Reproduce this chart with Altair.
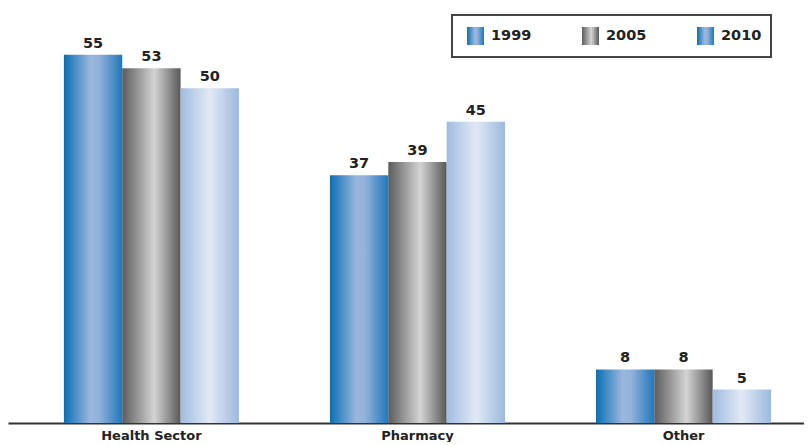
import altair as alt
import pandas as pd

categories = ["Health Sector", "Pharmacy", "Other"]
years = ["1999", "2005", "2010"]
v1999 = [55, 37, 8]
v2005 = [53, 39, 8]
v2010 = [50, 45, 5]

rows = []
for yr, vals in zip(years, [v1999, v2005, v2010]):
    for c, v in zip(categories, vals):
        rows.append({"category": c, "year": yr, "value": v})
df = pd.DataFrame(rows)


def grad(stops):
    return alt.Gradient(
        gradient="linear", x1=0, x2=1, y1=0, y2=0,
        stops=[alt.GradientStop(color=c, offset=o) for o, c in stops],
    )


gradients = {
    "1999": grad([(0, "#0a6fb5"), (0.45, "#9ab6dc"), (0.6, "#93b2da"), (1, "#1f78bb")]),
    "2005": grad([(0, "#5c5c5c"), (0.55, "#d4d4d4"), (1, "#585858")]),
    "2010": grad([(0, "#a0bce1"), (0.5, "#e2e9f4"), (1, "#9cb9de")]),
}
legend_grad = {"1999": gradients["1999"], "2005": gradients["2005"], "2010": gradients["1999"]}

FONT = "DejaVu Sans"

x_enc = alt.X(
    "category:N",
    sort=categories,
    title=None,
    scale=alt.Scale(paddingInner=0.342, paddingOuter=0.167, align=0.629),
    axis=alt.Axis(
        labelAngle=0, ticks=False, domainColor="#333333", domainWidth=2,
        labelFont=FONT, labelFontWeight="bold", labelFontSize=13,
        labelColor="#222222", labelPadding=6,
    ),
)
xoff = alt.XOffset("year:N", sort=years, scale=alt.Scale(domain=years, paddingInner=0, paddingOuter=0))
y_enc = alt.Y("value:Q", scale=alt.Scale(domain=[0, 62], nice=False), axis=None)

base = alt.Chart(df)

bar_layers = [
    base.transform_filter(alt.datum.year == yr)
    .mark_bar(color=gradients[yr], strokeWidth=0)
    .encode(x=x_enc, xOffset=xoff, y=y_enc)
    for yr in years
]

labels = base.mark_text(
    baseline="bottom", dy=-4, font=FONT, fontWeight="bold", fontSize=14.5, color="#222222"
).encode(x=x_enc, xOffset=xoff, y=y_enc, text="value:Q")

one = pd.DataFrame({"k": [0]})
leg = [
    alt.Chart(one).mark_rect(fill="white", stroke="#444444", strokeWidth=2).encode(
        x=alt.value(444), x2=alt.value(763), y=alt.value(7), y2=alt.value(49)
    )
]
for i, yr in enumerate(years):
    x0 = 459 + i * 115
    leg.append(
        alt.Chart(one).mark_rect(color=legend_grad[yr]).encode(
            x=alt.value(x0), x2=alt.value(x0 + 17), y=alt.value(19), y2=alt.value(37)
        )
    )
    leg.append(
        alt.Chart(one).mark_text(
            text=yr, align="left", baseline="middle", font=FONT, fontWeight="bold",
            fontSize=14.5, color="#222222",
        ).encode(x=alt.value(x0 + 24), y=alt.value(28))
    )

chart = alt.layer(*bar_layers, labels, *leg).properties(
    width=796, height=415, padding={"left": 0, "right": 0, "top": 0, "bottom": 0}
).configure_view(stroke=None)

chart.save("out.html", embed_options={"renderer": "svg", "actions": False})
